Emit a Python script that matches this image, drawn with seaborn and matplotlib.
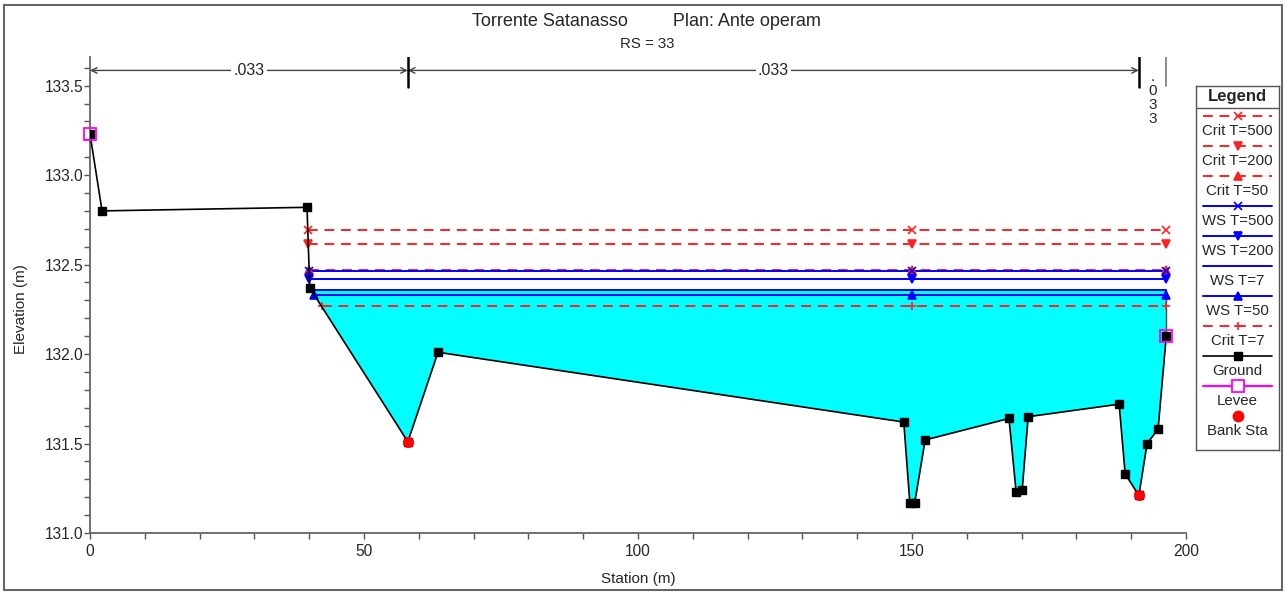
import numpy as np
import seaborn as sns
import matplotlib.pyplot as plt
from matplotlib.patches import Rectangle

# ground geometry of the cross section
station = [0.0, 2.2, 39.6, 40.1, 58.0, 63.5, 148.5, 149.6, 150.5, 152.4,
           167.7, 169.0, 170.1, 171.2, 187.8, 188.9, 191.4, 192.9, 194.9, 196.4]
elev = [133.23, 132.80, 132.82, 132.37, 131.51, 132.01, 131.62, 131.17, 131.17, 131.52,
        131.64, 131.23, 131.24, 131.65, 131.72, 131.33, 131.21, 131.50, 131.58, 132.10]

levee_sta = [0.0, 196.4]
levee_elev = [133.23, 132.10]
bank_sta = [58.0, 191.4]
bank_elev = [131.51, 131.21]

n_bounds = [0.0, 58.0, 191.4, 196.4]
n_values = [".033", ".033", ".033"]

profiles = ["Crit T=500", "Crit T=200", "Crit T=50", "WS T=500",
            "WS T=200", "WS T=7", "WS T=50", "Crit T=7"]
profile_elev = [132.695, 132.615, 132.47, 132.463, 132.419, 132.359, 132.331, 132.266]
marker_sta = 150.0
fill_profile = "WS T=7"

styles = {
    "Crit T=500": dict(color="#ff2020", ls=(0, (5, 3.5)), marker="x"),
    "Crit T=200": dict(color="#ff2020", ls=(0, (5, 3.5)), marker="v"),
    "Crit T=50": dict(color="#ff2020", ls=(0, (5, 3.5)), marker="^"),
    "WS T=500": dict(color="#0000ff", ls="-", marker="x"),
    "WS T=200": dict(color="#0000ff", ls="-", marker="v"),
    "WS T=7": dict(color="#0000ff", ls="-", marker=None),
    "WS T=50": dict(color="#0000ff", ls="-", marker="^"),
    "Crit T=7": dict(color="#ff2020", ls=(0, (5, 3.5)), marker="+"),
}

sns.set_style("ticks")
plt.rcParams['font.family'] = ['Liberation Sans', 'DejaVu Sans']
plt.rcParams['font.size'] = 11

W, H = 1286, 592
fig = plt.figure(figsize=(W / 100, H / 100), dpi=100)
ax = fig.add_axes([90 / W, 1 - 533 / H, (1186 - 90) / W, (533 - 57) / H])

st = np.array(station)
el = np.array(elev)


def left_edge(level):
    # first place where the ground drops under the level
    for i in range(len(st) - 1):
        if el[i] >= level > el[i + 1]:
            return st[i] + (el[i] - level) / (el[i] - el[i + 1]) * (st[i + 1] - st[i])
    return st[0]


# water fill
ws_fill = profile_elev[profiles.index(fill_profile)]
ax.fill_between(st, el, ws_fill, where=el < ws_fill, interpolate=True,
                color="#00ffff", lw=0, zorder=1)
ax.plot([st[-1], st[-1]], [el[-1], ws_fill], color="#444444", lw=1, zorder=2)

# profile lines
for name, lev in zip(profiles, profile_elev):
    s = styles[name]
    x0 = left_edge(lev)
    sns.lineplot(x=[x0, st[-1]], y=[lev, lev], color=s["color"], linestyle=s["ls"],
                 lw=1.4, ax=ax, zorder=3, estimator=None, sort=False)
    if s["marker"]:
        ax.plot([x0, marker_sta, st[-1]], [lev] * 3, ls="none", marker=s["marker"],
                color=s["color"], ms=6, mew=1.2, zorder=4)

# ground
sns.lineplot(x=station, y=elev, color="black", lw=1.2, ax=ax, zorder=5,
             estimator=None, sort=False)
ax.plot(station, elev, ls="none", marker="s", color="black", ms=5.8, zorder=6)
ax.plot(levee_sta, levee_elev, ls="none", marker="s", mfc="none", mec="#ff00ff",
        ms=9, mew=1.3, zorder=7, clip_on=False)
sns.scatterplot(x=bank_sta, y=bank_elev, color="red", s=55, edgecolor="red",
                ax=ax, zorder=8)

# manning n annotations
y_arr = 133.585
for i, nv in enumerate(n_values):
    a, b = n_bounds[i], n_bounds[i + 1]
    if b - a > 10:
        ax.annotate("", xy=(a, y_arr), xytext=(b, y_arr),
                    arrowprops=dict(arrowstyle="<->", color="#444444", lw=1,
                                    shrinkA=0, shrinkB=0, mutation_scale=10))
        ax.text((a + b) / 2, y_arr, nv, ha="center", va="center", fontsize=11.5,
                bbox=dict(fc="white", ec="none", pad=1.5), zorder=10)
    else:
        ax.text((a + b) / 2, 133.59, "\n".join(nv), ha="center", va="top",
                fontsize=11, linespacing=1.0)
for b in bank_sta:
    ax.plot([b, b], [133.49, 133.66], color="black", lw=1.8, zorder=9)
ax.plot([n_bounds[-1]] * 2, [133.50, 133.66], color="#777777", lw=1.2, zorder=9)

ax.set_xlim(0, 200)
ax.set_ylim(131.0, 133.66)
ax.set_xticks([0, 50, 100, 150, 200])
ax.set_xticks(np.arange(0, 201, 10), minor=True)
ax.set_yticks([131.0, 131.5, 132.0, 132.5, 133.0, 133.5])
ax.set_yticks(np.arange(131.0, 133.61, 0.1), minor=True)
ax.set_yticklabels(["131.0", "131.5", "132.0", "132.5", "133.0", "133.5"])
ax.tick_params(which="both", length=4, width=1, color="#555555", labelsize=11.2)
ax.tick_params(axis="x", which="both", direction="out", pad=4)
ax.tick_params(axis="y", which="both", direction="out", pad=1)
for sp in ["top", "right"]:
    ax.spines[sp].set_visible(False)
for sp in ["left", "bottom"]:
    ax.spines[sp].set_color("#666666")
    ax.spines[sp].set_linewidth(1.3)
ax.set_xlabel("Station (m)", fontsize=11, labelpad=9)
ax.set_ylabel("")
fig.text(21 / W, 1 - 309 / H, "Elevation (m)", rotation=90, ha="center", va="center",
         fontsize=11)

fig.text(0.503, 1 - 22 / H, "Torrente Satanasso         Plan: Ante operam",
         ha="center", va="center", fontsize=13)
fig.text(0.503, 1 - 44 / H, "RS = 33", ha="center", va="center", fontsize=10.8)

# legend panel
lax = fig.add_axes([1196 / W, 1 - 450 / H, 83 / W, 364 / H])
lax.set_xlim(0, 83)
lax.set_ylim(364, 0)
lax.set_xticks([])
lax.set_yticks([])
for sp in lax.spines.values():
    sp.set_color("#555555")
    sp.set_linewidth(1)
lax.text(41.5, 11, "Legend", ha="center", va="center", fontsize=12, fontweight="bold")
lax.plot([0, 83], [22, 22], color="#555555", lw=1)
entries = profiles + ["Ground", "Levee", "Bank Sta"]
for i, name in enumerate(entries):
    yl = 30 + i * 30
    if name in styles:
        s = styles[name]
        lax.plot([7, 76], [yl, yl], color=s["color"], ls=s["ls"], lw=1.4)
        if s["marker"]:
            lax.plot([41.5], [yl], marker=s["marker"], color=s["color"], ms=6, mew=1.2)
    elif name == "Ground":
        lax.plot([7, 76], [yl, yl], color="black", lw=1.2)
        lax.plot([41.5], [yl], marker="s", color="black", ms=5.8)
    elif name == "Levee":
        lax.plot([7, 76], [yl, yl], color="#ff00ff", lw=1.6)
        lax.plot([41.5], [yl], marker="s", mfc="white", mec="#ff00ff", ms=9, mew=1.3)
    else:
        lax.plot([41.5], [yl], marker="o", color="red", ms=7.5)
    lax.text(41.5, yl + 15, name, ha="center", va="center", fontsize=10.8)

fig.patches.append(Rectangle((4 / W, 2 / H), (1282 - 4) / W, (590 - 5) / H,
                             transform=fig.transFigure, fill=False,
                             edgecolor="#666666", lw=1.5))

fig.savefig("out.png", dpi=100)
